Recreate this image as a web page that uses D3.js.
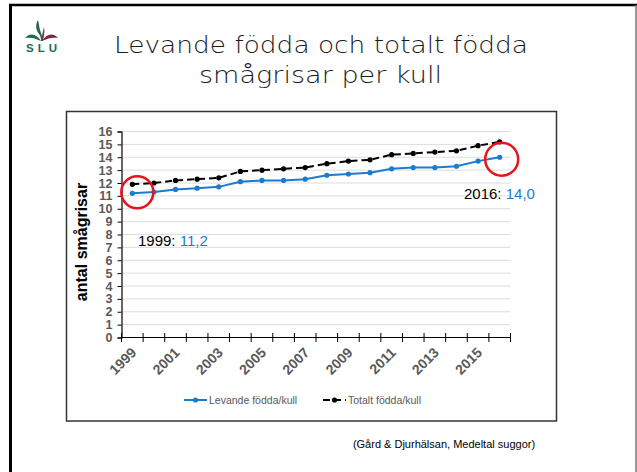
<!DOCTYPE html>
<html>
<head>
<meta charset="utf-8">
<script src="https://cdn.jsdelivr.net/npm/d3@7"></script>
<style>
  body { margin: 0; background: #fff; }
  svg { display: block; font-family: Arial, "Liberation Sans", sans-serif; }
</style>
</head>
<body>
<div id="canvas"></div>
<script>
// data
const years = ["1999","2000","2001","2002","2003","2004","2005","2006","2007","2008","2009","2010","2011","2012","2013","2014","2015","2016"]
const levande = [11.2, 11.3, 11.5, 11.6, 11.7, 12.1, 12.2, 12.2, 12.3, 12.6, 12.7, 12.8, 13.1, 13.2, 13.2, 13.3, 13.7, 14.0]
const totalt = [11.9, 12.0, 12.2, 12.3, 12.4, 12.9, 13.0, 13.1, 13.2, 13.5, 13.7, 13.8, 14.2, 14.3, 14.4, 14.5, 14.9, 15.2]
const yTicks = d3.range(0, 17)
const xLabels = ["1999","2001","2003","2005","2007","2009","2011","2013","2015"]

const blue = "#1b7bcf"
const gray = "#595959"

const svg = d3.select("#canvas").append("svg").attr("width", 637).attr("height", 472)

// slide frame
svg.append("line").attr("x1", 9).attr("y1", 5).attr("x2", 637).attr("y2", 5).attr("stroke", "#000").attr("stroke-width", 2.5)
svg.append("line").attr("x1", 10.5).attr("y1", 4).attr("x2", 10.5).attr("y2", 472).attr("stroke", "#000").attr("stroke-width", 3)
svg.append("line").attr("x1", 636).attr("y1", 5).attr("x2", 636).attr("y2", 472).attr("stroke", "#777").attr("stroke-width", 1.5)

// SLU logo
const logo = svg.append("g").attr("transform", "translate(41,0)")
logo.append("path").attr("d", "M-3,20 C-6,25 -5,30 -2,34 C0,37 0,39 0,41 L1.5,41 C2,37 0,33 -1,30 C-2,27 -2,23 -3,20 Z").attr("fill", "#1e6b52")
logo.append("path").attr("d", "M0,41 C-4,34 -11,32 -16,38 C-11,37 -6,38 0,41 Z").attr("fill", "#1e6b52")
logo.append("path").attr("d", "M0.5,41 C1,35 2,31 3,27 C4,32 3,37 1.5,41 Z").attr("fill", "#7a2b3b")
logo.append("path").attr("d", "M1,41 C5,34 12,32 17,38 C12,37 7,38 1,41 Z").attr("fill", "#7a2b3b")
logo.append("text").attr("x", -15).attr("y", 51.5).attr("font-size", 11.5).attr("font-weight", "bold")
  .attr("textLength", 31).attr("lengthAdjust", "spacing").attr("fill", "#1e6b52").text("SLU")

// title
const title = svg.append("g").attr("font-family", "'DejaVu Sans', sans-serif").attr("font-size", 23).attr("font-weight", 200).attr("fill", "#1a1a1a")
title.append("text").attr("x", 114).attr("y", 53).attr("textLength", 414).attr("lengthAdjust", "spacingAndGlyphs").text("Levande födda och totalt födda")
title.append("text").attr("x", 199).attr("y", 83).attr("textLength", 243).attr("lengthAdjust", "spacingAndGlyphs").text("smågrisar per kull")

// chart box
svg.append("rect").attr("x", 66.5).attr("y", 111.5).attr("width", 490).attr("height", 309.5).attr("fill", "none").attr("stroke", "#333").attr("stroke-width", 1.5)

// scales
const x = d3.scaleBand().domain(years).range([121.5, 510.5])
const y = d3.scaleLinear().domain([0, 16]).range([337.5, 131.5])

// gridlines
svg.append("g").selectAll("line").data(yTicks.slice(1)).enter().append("line")
  .attr("x1", 121.5).attr("x2", 510.5).attr("y1", d => y(d)).attr("y2", d => y(d))
  .attr("stroke", "#dcdcdc").attr("stroke-width", 1)

// y axis
const yAxis = svg.append("g").attr("transform", "translate(121.5,0)")
  .call(d3.axisLeft(y).tickValues(yTicks).tickSize(4).tickPadding(5).tickFormat(d3.format("d")))
yAxis.select(".domain").attr("stroke", "#000").attr("stroke-width", 1.2)
yAxis.selectAll(".tick line").attr("stroke", "#000")
yAxis.selectAll("text").attr("font-size", 12.5).attr("font-weight", "bold").attr("fill", gray).attr("font-family", "Arial, 'Liberation Sans', sans-serif")

// x axis with ticks on category borders
const xAxis = svg.append("g").attr("transform", "translate(0,337.5)")
xAxis.append("line").attr("x1", 121.5).attr("x2", 510.5).attr("stroke", "#000").attr("stroke-width", 1.2)
const borders = years.map(d => x(d)).concat([x(years[years.length - 1]) + x.bandwidth()])
xAxis.selectAll(".xt").data(borders).enter().append("line").attr("class", "xt")
  .attr("x1", d => d).attr("x2", d => d).attr("y1", -4.5).attr("y2", 4.5).attr("stroke", "#000")
xAxis.selectAll(".xl").data(xLabels).enter().append("text").attr("class", "xl")
  .attr("transform", d => `translate(${x(d) + x.bandwidth() / 2 + 5},${16}) rotate(-45)`)
  .attr("text-anchor", "end").attr("font-size", 14).attr("font-weight", "bold").attr("fill", gray).text(d => d)

// y title
svg.append("text").attr("transform", "translate(87,242) rotate(-90)").attr("text-anchor", "middle")
  .attr("font-size", 16).attr("font-weight", "bold").attr("fill", "#000").text("antal smågrisar")

// lines
const cx = d => x(d) + x.bandwidth() / 2
const lineTot = d3.line().x((d, i) => cx(years[i])).y(d => y(d))
svg.append("path").attr("d", lineTot(totalt)).attr("fill", "none").attr("stroke", "#000").attr("stroke-width", 2).attr("stroke-dasharray", "7,4")
svg.append("g").selectAll("circle").data(totalt).enter().append("circle")
  .attr("cx", (d, i) => cx(years[i])).attr("cy", d => y(d)).attr("r", 2.6).attr("fill", "#000")

svg.append("path").attr("d", lineTot(levande)).attr("fill", "none").attr("stroke", blue).attr("stroke-width", 2)
svg.append("g").selectAll("circle").data(levande).enter().append("circle")
  .attr("cx", (d, i) => cx(years[i])).attr("cy", d => y(d)).attr("r", 2.6).attr("fill", blue)

// red circles
svg.append("circle").attr("cx", cx("1999") + 5).attr("cy", y(levande[0]) - 1).attr("r", 16).attr("fill", "none").attr("stroke", "#e8141b").attr("stroke-width", 2.5)
svg.append("circle").attr("cx", cx("2016") + 2).attr("cy", y(levande[17]) + 2).attr("r", 16.5).attr("fill", "none").attr("stroke", "#e8141b").attr("stroke-width", 2.5)

// annotations
const a1 = svg.append("text").attr("x", 138).attr("y", 246).attr("font-size", 15).attr("fill", "#000")
a1.append("tspan").text("1999: ")
a1.append("tspan").attr("fill", blue).text("11,2")
const a2 = svg.append("text").attr("x", 464).attr("y", 199).attr("font-size", 15).attr("fill", "#000")
a2.append("tspan").text("2016: ")
a2.append("tspan").attr("fill", blue).text("14,0")

// legend
const leg = svg.append("g").attr("transform", "translate(0,400)")
leg.append("line").attr("x1", 184).attr("x2", 207).attr("stroke", blue).attr("stroke-width", 2)
leg.append("circle").attr("cx", 195.5).attr("r", 2.6).attr("fill", blue)
leg.append("text").attr("x", 209).attr("y", 3.8).attr("font-size", 10.5).attr("fill", gray).text("Levande födda/kull")
leg.append("line").attr("x1", 323).attr("x2", 346).attr("stroke", "#000").attr("stroke-width", 2).attr("stroke-dasharray", "7,4")
leg.append("circle").attr("cx", 334.5).attr("r", 2.6).attr("fill", "#000")
leg.append("text").attr("x", 348).attr("y", 3.8).attr("font-size", 10.5).attr("fill", gray).text("Totalt födda/kull")

// source
svg.append("text").attr("x", 444).attr("y", 448).attr("text-anchor", "middle").attr("font-size", 11).attr("fill", "#000")
  .text("(Gård & Djurhälsan, Medeltal suggor)")
</script>
</body>
</html>
